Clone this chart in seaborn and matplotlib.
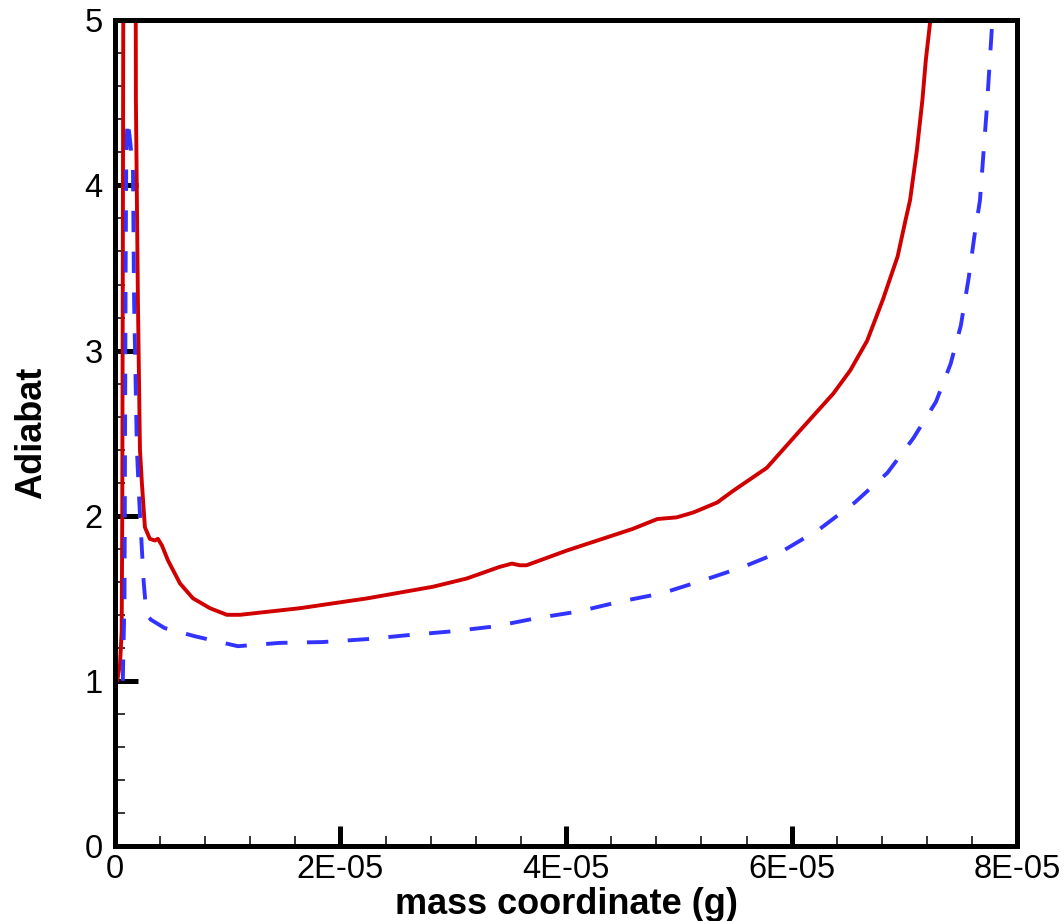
import numpy as np
import pandas as pd
import matplotlib
matplotlib.use("Agg")
import matplotlib.pyplot as plt
from matplotlib.ticker import MultipleLocator, FixedLocator, FixedFormatter
import seaborn as sns

# ---- data (mass in grams, adiabat dimensionless) ----
red_mass = [0.02e-5, 0.045e-5, 0.06e-5, 0.065e-5, 0.07e-5, 0.075e-5,
            0.184e-5, 0.186e-5, 0.204e-5, 0.222e-5, 0.239e-5, 0.266e-5, 0.31e-5,
            0.355e-5, 0.381e-5, 0.417e-5, 0.47e-5, 0.577e-5, 0.692e-5, 0.843e-5,
            0.993e-5, 1.109e-5, 1.64e-5, 2.24e-5, 2.82e-5, 3.12e-5, 3.41e-5,
            3.52e-5, 3.59e-5, 3.65e-5, 4.01e-5, 4.59e-5, 4.81e-5, 4.98e-5,
            5.13e-5, 5.34e-5, 5.48e-5, 5.63e-5, 5.78e-5, 6.08e-5, 6.37e-5,
            6.52e-5, 6.67e-5, 6.81e-5, 6.94e-5, 7.01e-5, 7.05e-5, 7.11e-5,
            7.16e-5, 7.19e-5, 7.23e-5, 7.26e-5]
red_adiabat = [1.0, 1.1, 1.3, 2.0, 3.5, 5.3,
               5.3, 4.52, 3.30, 2.40, 2.20, 1.93, 1.86,
               1.85, 1.86, 1.82, 1.73, 1.59, 1.50, 1.44,
               1.40, 1.40, 1.44, 1.50, 1.57, 1.62, 1.69,
               1.71, 1.70, 1.70, 1.79, 1.92, 1.98, 1.99,
               2.02, 2.08, 2.15, 2.22, 2.29, 2.52, 2.74,
               2.88, 3.06, 3.31, 3.57, 3.79, 3.91, 4.21,
               4.52, 4.76, 5.0, 5.3]

blue_mass = [0.07e-5, 0.085e-5, 0.09e-5, 0.095e-5, 0.10e-5, 0.11e-5, 0.13e-5,
             0.16e-5, 0.17e-5, 0.195e-5, 0.215e-5, 0.235e-5, 0.255e-5, 0.28e-5,
             0.32e-5, 0.44e-5, 0.71e-5, 1.09e-5, 1.46e-5, 1.84e-5, 2.24e-5,
             2.60e-5, 2.99e-5, 3.37e-5, 3.74e-5, 4.11e-5, 4.48e-5, 4.85e-5,
             5.22e-5, 5.57e-5, 5.93e-5, 6.25e-5, 6.56e-5, 6.85e-5, 7.08e-5,
             7.28e-5, 7.41e-5, 7.50e-5, 7.57e-5, 7.62e-5, 7.67e-5, 7.73e-5,
             7.78e-5, 7.80e-5]
blue_adiabat = [1.0, 1.5, 2.5, 3.5, 4.1, 4.4, 4.3,
                4.1, 3.3, 2.4, 2.1, 1.85, 1.6, 1.40,
                1.37, 1.32, 1.27, 1.21, 1.23, 1.235, 1.253,
                1.277, 1.30, 1.33, 1.38, 1.42, 1.48, 1.53,
                1.61, 1.69, 1.79, 1.92, 2.08, 2.26, 2.47,
                2.69, 2.92, 3.15, 3.44, 3.69, 3.91, 4.46,
                5.0, 5.3]

x_ticks = [0, 2e-5, 4e-5, 6e-5, 8e-5]
x_tick_labels = ["0", "2E-05", "4E-05", "6E-05", "8E-05"]
y_ticks = [0, 1, 2, 3, 4, 5]
y_tick_labels = ["0", "1", "2", "3", "4", "5"]

# ---- style ----
sns.set_style("ticks")
plt.rcParams["font.family"] = ["Liberation Sans", "DejaVu Sans"]

fig = plt.figure(figsize=(10.64, 9.21), dpi=100)
ax = fig.add_axes([0.108, 0.0814, 0.956 - 0.108, 0.978 - 0.0814])

red_df = pd.DataFrame({"mass": red_mass, "adiabat": red_adiabat})
blue_df = pd.DataFrame({"mass": blue_mass, "adiabat": blue_adiabat})

sns.lineplot(data=red_df, x="mass", y="adiabat", sort=False, estimator=None,
             color="#D00000", linewidth=2.8, ax=ax)
ax.lines[-1].set_solid_joinstyle("round")
sns.lineplot(data=blue_df, x="mass", y="adiabat", sort=False, estimator=None,
             color="#3333FF", linewidth=2.8, ax=ax)
ax.lines[-1].set_dashes([5.5, 5])

ax.set_xlim(0, 8e-5)
ax.set_ylim(0, 5)

ax.xaxis.set_major_locator(FixedLocator(x_ticks))
ax.xaxis.set_major_formatter(FixedFormatter(x_tick_labels))
ax.xaxis.set_minor_locator(MultipleLocator(0.4e-5))
ax.yaxis.set_major_locator(FixedLocator(y_ticks))
ax.yaxis.set_major_formatter(FixedFormatter(y_tick_labels))
ax.yaxis.set_minor_locator(MultipleLocator(0.2))

for s in ax.spines.values():
    s.set_visible(True)
    s.set_linewidth(3.6)
    s.set_color("black")

ax.tick_params(axis="x", which="major", direction="in", length=14.5, width=3.6,
               labelsize=23.5, pad=6, color="black", labelcolor="black")
ax.tick_params(axis="y", which="major", direction="in", length=16.5, width=3.6,
               labelsize=23.5, pad=9, color="black", labelcolor="black")
ax.tick_params(axis="both", which="minor", direction="in", length=7.5, width=1.1,
               color="black")
ax.tick_params(top=False, right=False, which="both")

ax.set_xlabel("mass coordinate (g)", fontsize=26, fontweight="bold", labelpad=1,
              color="black")
ax.set_ylabel("Adiabat", fontsize=26, fontweight="bold", labelpad=25,
              color="black")

fig.savefig("out.png", dpi=100)
